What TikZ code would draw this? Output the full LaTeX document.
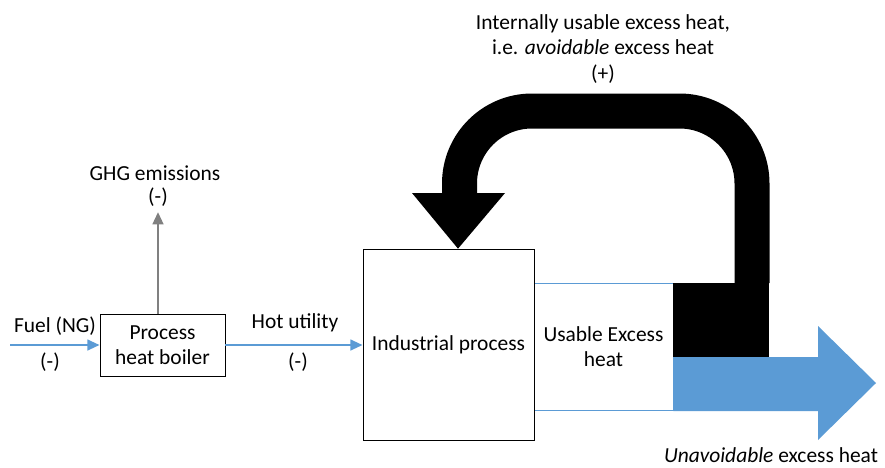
\documentclass[tikz,border=0pt]{standalone}
\usepackage{fontspec}
\setmainfont{Carlito}
\usepackage{xcolor}
\usetikzlibrary{arrows.meta,positioning}
\definecolor{flowblue}{HTML}{5B9BD5}
\definecolor{ghggray}{HTML}{808080}
\tikzset{
  box/.style={draw, thin, fill=white, align=center, inner sep=0pt},
  flow/.style={flowblue, line width=1.5pt, -{Triangle[length=7pt,width=6pt]}},
  lbl/.style={align=center, inner sep=1pt},
}

\begin{document}
\begin{tikzpicture}[x=0.02cm, y=-0.02cm, font=\fontsize{12.2}{14.3}\selectfont]
    \useasboundingbox (0,0) rectangle (885,467);

    % Points
    \coordinate (fuel) at (10,345);
    \coordinate (ghg) at (158,212);

    % Boxes
    \node[box, draw=flowblue, minimum width=2.78cm, minimum height=2.54cm] (usable) at (603.5,346.5) {Usable Excess\\heat};
    \node[box, minimum width=2.5cm, minimum height=1.24cm] (boiler) at (162.5,345) {Process\\heat boiler};
    \node[box, minimum width=3.42cm, minimum height=3.82cm] (process) at (448.5,344.5) {Industrial process};

    % Unavoidable excess heat
    \fill[flowblue] (usable.east |- 0,357) -- (818,357) -- (818,326) -- (876,383)
        -- (818,440) -- (818,411) -- (usable.east |- 0,411) -- cycle;

    % Avoidable excess heat
    \fill (usable.north east) rectangle (769,357);
    \draw[line width=0.7cm, rounded corners=1.45cm] (752,283) -- (752,111) -- (459.5,111) -- (459.5,194);
    \fill (412,193) -- (505,193) -- (process.north -| 458,0) -- cycle;

    % Flows
    \draw[flow] (fuel) -- (boiler.west);
    \draw[flow] (boiler.east) -- (process.west |- boiler.east);
    \draw[ghggray, line width=1.5pt, -{Triangle[length=7pt,width=6pt]}] (boiler.north -| ghg) -- (ghg);

    % Labels
    \node[lbl] (fuellbl) at (55,326) {Fuel (NG)};
    \node[lbl] (fuelsign) at (50,362) {(-)};
    \node[lbl] (hotlbl) at (295,323) {Hot utility};
    \node[lbl] (hotsign) at (298,362) {(-)};
    \node[lbl] (ghglbl) at (155,173) {GHG emissions};
    \node[lbl] (ghgsign) at (158,197) {(-)};
    \node[lbl] (avoidlbl) at (603,49) {Internally usable excess heat,\\i.e. \textit{avoidable} excess heat\\(+)};
    \node[lbl] (unavoidlbl) at (771,455) {\textit{Unavoidable} excess heat};
\end{tikzpicture}
\end{document}
